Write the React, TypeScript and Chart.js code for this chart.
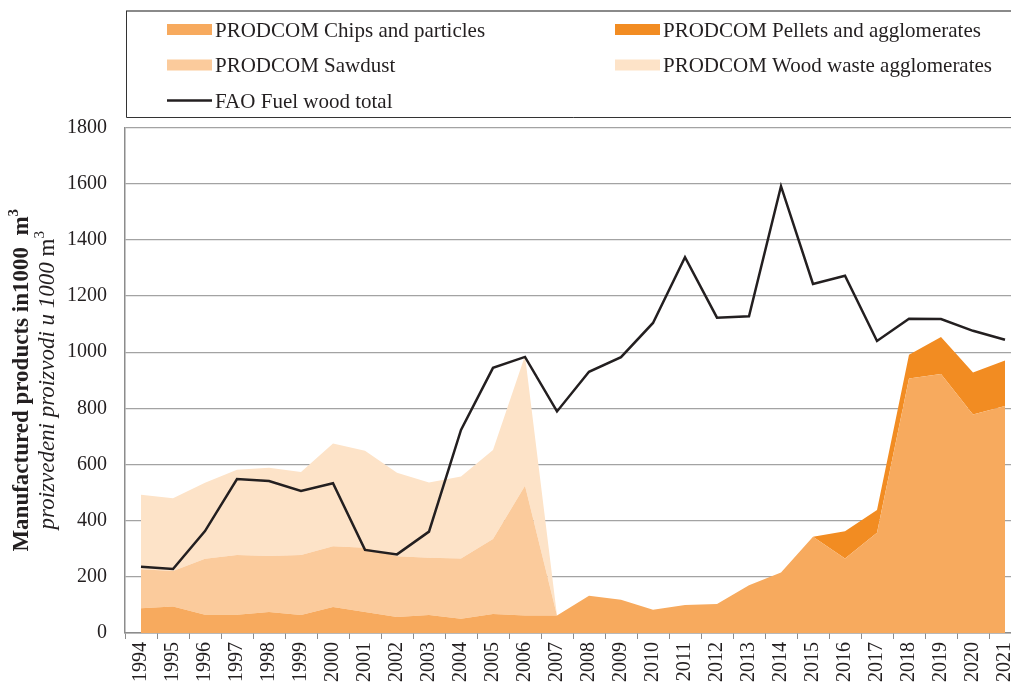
import React, { useEffect, useRef } from "react";
import { Chart, registerables } from "chart.js";

Chart.register(...registerables);

const years = [
  "1994", "1995", "1996", "1997", "1998", "1999", "2000", "2001", "2002", "2003",
  "2004", "2005", "2006", "2007", "2008", "2009", "2010", "2011", "2012", "2013",
  "2014", "2015", "2016", "2017", "2018", "2019", "2020", "2021",
];

const chipsParticles = [
  88, 94, 65, 65, 75, 64, 93, 75, 57, 64,
  51, 68, 62, 62, 133, 118, 83, 100, 103, 170,
  215, 343, 265, 357, 906, 922, 778, 808,
];

const pelletsAgglomerates = [
  0, 0, 0, 0, 0, 0, 0, 0, 0, 0,
  0, 0, 0, 0, 0, 0, 0, 0, 0, 0,
  0, 0, 97, 81, 85, 132, 150, 162,
];

const sawdust = [
  139, 127, 199, 213, 199, 214, 216, 229, 216, 204,
  214, 267, 462, 0, 0, 0, 0, 0, 0, 0,
  0, 0, 0, 0, 0, 0, 0, 0,
];

const woodWasteAgglomerates = [
  265, 259, 271, 303, 314, 295, 366, 345, 298, 268,
  292, 317, 463, 0, 0, 0, 0, 0, 0, 0,
  0, 0, 0, 0, 0, 0, 0, 0,
];

const faoFuelWood = [
  236, 228, 363, 548, 541, 506, 533, 296, 280, 361,
  723, 944, 983, 789, 930, 982, 1104, 1338, 1123, 1128,
  1591, 1243, 1272, 1040, 1119, 1118, 1076, 1044,
];

const yTicks = [0, 200, 400, 600, 800, 1000, 1200, 1400, 1600, 1800];

const seriesLabels = [
  "PRODCOM Chips and particles",
  "PRODCOM Pellets and agglomerates",
  "PRODCOM Sawdust",
  "PRODCOM Wood waste agglomerates",
  "FAO Fuel wood total",
];

const yTitleEn = "Manufactured products in1000  m";
const yTitleLocal = "proizvedeni proizvodi u 1000 ";

const FONT = '"Liberation Serif", "Times New Roman", Times, serif';
const TEXT = "#231F20";
const C_CHIPS = "#F7AA5E";
const C_PELLETS = "#F28C22";
const C_SAWDUST = "#FBCB9C";
const C_WOOD = "#FDE3C8";
const C_FAO = "#231F20";
const C_GRID = "#A3A3A3";
const C_AXIS = "#8C8C8C";

type Seg = { text: string; font: string; sup?: boolean };

function drawRotated(ctx: CanvasRenderingContext2D, cx: number, cy: number, segs: Seg[]) {
  ctx.save();
  ctx.translate(cx, cy);
  ctx.rotate(-Math.PI / 2);
  ctx.fillStyle = TEXT;
  ctx.textBaseline = "alphabetic";
  ctx.textAlign = "left";
  let total = 0;
  const widths: number[] = [];
  for (const s of segs) {
    ctx.font = s.font;
    const w = ctx.measureText(s.text).width;
    widths.push(w);
    total += w;
  }
  let x = -total / 2;
  segs.forEach((s, i) => {
    ctx.font = s.font;
    ctx.fillText(s.text, x, s.sup ? -2 : 7.5);
    x += widths[i];
  });
  ctx.restore();
}

const yTitlePlugin = {
  id: "yTitleCustom",
  afterDraw(chart: any) {
    const { ctx, chartArea } = chart;
    const cy = (chartArea.top + chartArea.bottom) / 2;
    drawRotated(ctx, 20, cy, [
      { text: yTitleEn, font: `bold 23px ${FONT}` },
      { text: "3", font: `bold 15px ${FONT}`, sup: true },
    ]);
    drawRotated(ctx, 46, cy, [
      { text: yTitleLocal, font: `italic 23px ${FONT}` },
      { text: "m", font: `23px ${FONT}` },
      { text: "3", font: `15px ${FONT}`, sup: true },
    ]);
  },
};

const legendPlugin = {
  id: "legendCustom",
  afterDraw(chart: any) {
    const { ctx } = chart;
    ctx.save();
    ctx.strokeStyle = "#8A8A8A";
    ctx.lineWidth = 2;
    ctx.beginPath();
    ctx.moveTo(126, 11);
    ctx.lineTo(chart.width, 11);
    ctx.stroke();
    ctx.strokeStyle = "#333333";
    ctx.lineWidth = 1;
    ctx.beginPath();
    ctx.moveTo(126.5, 11);
    ctx.lineTo(126.5, 117.5);
    ctx.lineTo(chart.width, 117.5);
    ctx.stroke();

    const items = [
      { label: seriesLabels[0], color: C_CHIPS, x: 167, row: 0, line: false },
      { label: seriesLabels[1], color: C_PELLETS, x: 615, row: 0, line: false },
      { label: seriesLabels[2], color: C_SAWDUST, x: 167, row: 1, line: false },
      { label: seriesLabels[3], color: C_WOOD, x: 615, row: 1, line: false },
      { label: seriesLabels[4], color: C_FAO, x: 167, row: 2, line: true },
    ];
    ctx.font = `21px ${FONT}`;
    ctx.textBaseline = "alphabetic";
    ctx.textAlign = "left";
    for (const it of items) {
      const cy = 29.5 + it.row * 35.5;
      if (it.line) {
        ctx.strokeStyle = it.color;
        ctx.lineWidth = 2.5;
        ctx.beginPath();
        ctx.moveTo(it.x, cy);
        ctx.lineTo(it.x + 45, cy);
        ctx.stroke();
      } else {
        ctx.fillStyle = it.color;
        ctx.fillRect(it.x, cy - 5.5, 45, 11);
      }
      ctx.fillStyle = TEXT;
      ctx.fillText(it.label, it.x + 48, cy + 7);
    }
    ctx.restore();
  },
};

export default function App() {
  const ref = useRef<HTMLCanvasElement | null>(null);

  useEffect(() => {
    if (!ref.current) return;
    const area = (label: string, data: number[], color: string, fill: any) => ({
      type: "line" as const,
      label,
      data,
      backgroundColor: color,
      borderColor: color,
      borderWidth: 0,
      pointRadius: 0,
      pointHoverRadius: 0,
      tension: 0,
      fill,
      stack: "prodcom",
    });
    const chart = new Chart(ref.current, {
      type: "line",
      data: {
        labels: years,
        datasets: [
          {
            type: "line",
            label: seriesLabels[4],
            data: faoFuelWood,
            borderColor: C_FAO,
            backgroundColor: C_FAO,
            borderWidth: 2.5,
            pointRadius: 0,
            tension: 0,
            fill: false,
            stack: "fao",
            borderJoinStyle: "miter",
          } as any,
          area(seriesLabels[0], chipsParticles, C_CHIPS, "origin"),
          area(seriesLabels[1], pelletsAgglomerates, C_PELLETS, "-1"),
          area(seriesLabels[2], sawdust, C_SAWDUST, "-1"),
          area(seriesLabels[3], woodWasteAgglomerates, C_WOOD, "-1"),
        ],
      },
      options: {
        responsive: false,
        animation: false,
        devicePixelRatio: 1,
        layout: { padding: { top: 127.5, left: 0, right: 0, bottom: 0 } },
        plugins: {
          legend: { display: false },
          title: { display: false },
          tooltip: { enabled: false },
        },
        scales: {
          x: {
            type: "category",
            offset: true,
            grid: {
              display: true,
              offset: true,
              drawOnChartArea: false,
              drawTicks: true,
              tickLength: 6,
              color: C_AXIS,
              lineWidth: 1,
            },
            border: { display: true, color: C_AXIS, width: 1.5 },
            ticks: {
              color: TEXT,
              font: { family: FONT, size: 20 },
              minRotation: 90,
              maxRotation: 90,
              autoSkip: false,
              padding: 3,
            },
            afterFit: (scale: any) => {
              scale.height = 51;
              scale.paddingLeft = 0;
              scale.paddingRight = 0;
            },
          },
          y: {
            stacked: true,
            min: 0,
            max: 1800,
            afterBuildTicks: (scale: any) => {
              scale.ticks = yTicks.map((v) => ({ value: v }));
            },
            grid: {
              color: C_GRID,
              lineWidth: 1.3,
              drawTicks: false,
            },
            border: { display: true, color: C_AXIS, width: 1.5 },
            ticks: {
              color: TEXT,
              font: { family: FONT, size: 20 },
              padding: 18,
              callback: (v: any) => String(v),
            },
            afterFit: (scale: any) => {
              scale.width = 125;
            },
          },
        },
      },
      plugins: [legendPlugin, yTitlePlugin],
    });
    return () => chart.destroy();
  }, []);

  return (
    <div
      style={{
        position: "fixed",
        left: 0,
        top: 0,
        width: 1011,
        height: 684,
        overflow: "hidden",
        background: "#ffffff",
      }}
    >
      <canvas ref={ref} width={1021} height={684} style={{ display: "block" }} />
    </div>
  );
}
